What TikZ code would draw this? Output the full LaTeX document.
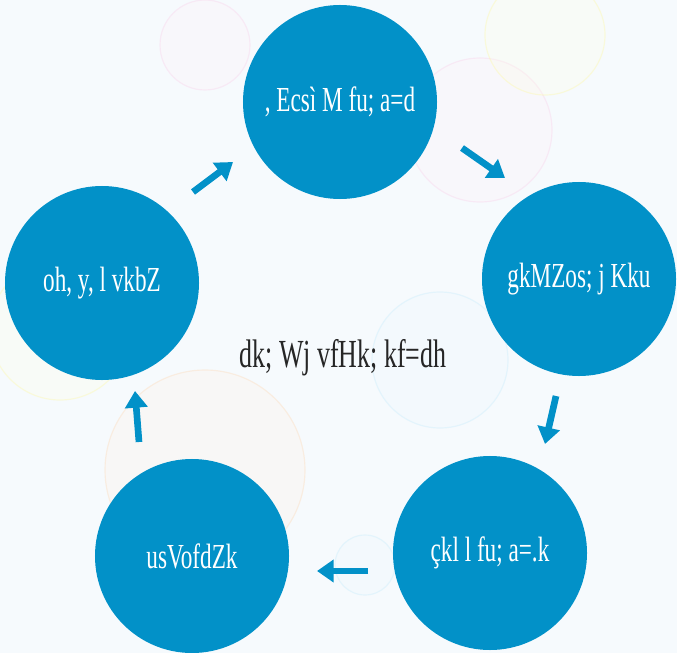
\documentclass[tikz,border=0pt]{standalone}
\usepackage{fontspec}
\setmainfont{Liberation Serif}
\newfontfamily\kruti[FakeStretch=0.66]{Liberation Serif}
\newfontfamily\krutihub[FakeStretch=0.65]{Liberation Serif}
\usetikzlibrary{arrows.meta}
\definecolor{stageblue}{RGB}{2,145,200}
\definecolor{paper}{RGB}{246,250,253}
\tikzstyle{stage}=[circle, fill=stageblue, inner sep=0pt, minimum size=5.82cm, text=white, font=\kruti\fontsize{30}{32}\selectfont]
\tikzstyle{hub}=[text=black!85, font=\krutihub\fontsize{34}{36}\selectfont]
\tikzstyle{flow}=[stageblue, line width=0.2cm, -{Triangle[width=0.66cm, length=0.5cm]}]
\tikzstyle{bubble}=[line width=1pt, opacity=0.25]

\begin{document}
\begin{tikzpicture}[x=0.03cm, y=-0.03cm]
      \useasboundingbox (0,0) rectangle (677,653);
      \fill[paper] (0,0) rectangle (677,653);
      % faint bubbles behind
      \draw[bubble, draw=orange!40, fill=orange!10] (205,470) circle (100);
      \draw[bubble, draw=cyan!30, fill=cyan!8] (440,360) circle (68);
      \draw[bubble, draw=cyan!30, fill=cyan!8] (365,565) circle (30);
      \draw[bubble, draw=magenta!25, fill=magenta!5] (480,130) circle (72);
      \draw[bubble, draw=magenta!25, fill=magenta!5] (205,45) circle (45);
      \draw[bubble, draw=yellow!50, fill=yellow!10] (545,35) circle (60);
      \draw[bubble, draw=yellow!50, fill=yellow!10] (60,330) circle (70);
      \node[stage] (embed) at (340,102) {, Ecsì M fu; a=d};
      \node[stage] (hard) at (579,279) {gkMZos; j Kku};
      \node[stage] (proc) at (490,553) {çkl l fu; a=.k};
      \node[stage] (net) at (192,556) {usVofdZk};
      \node[stage] (vlsi) at (102,283) {oh, y, l vkbZ};
      \node[hub] (core) at (343,358) {dk; Wj vfHk; kf=dh};
      \coordinate (a1) at (193,192);
      \coordinate (b1) at (233,162);
      \coordinate (a2) at (462,148);
      \coordinate (b2) at (505,178);
      \coordinate (a3) at (556,396);
      \coordinate (b3) at (545,444);
      \coordinate (a4) at (368,571);
      \coordinate (b4) at (317,571);
      \coordinate (a5) at (139,442);
      \coordinate (b5) at (135,391);
      \draw[flow] (a1) -- (b1);
      \draw[flow] (a2) -- (b2);
      \draw[flow] (a3) -- (b3);
      \draw[flow] (a4) -- (b4);
      \draw[flow] (a5) -- (b5);
    \end{tikzpicture}
\end{document}
